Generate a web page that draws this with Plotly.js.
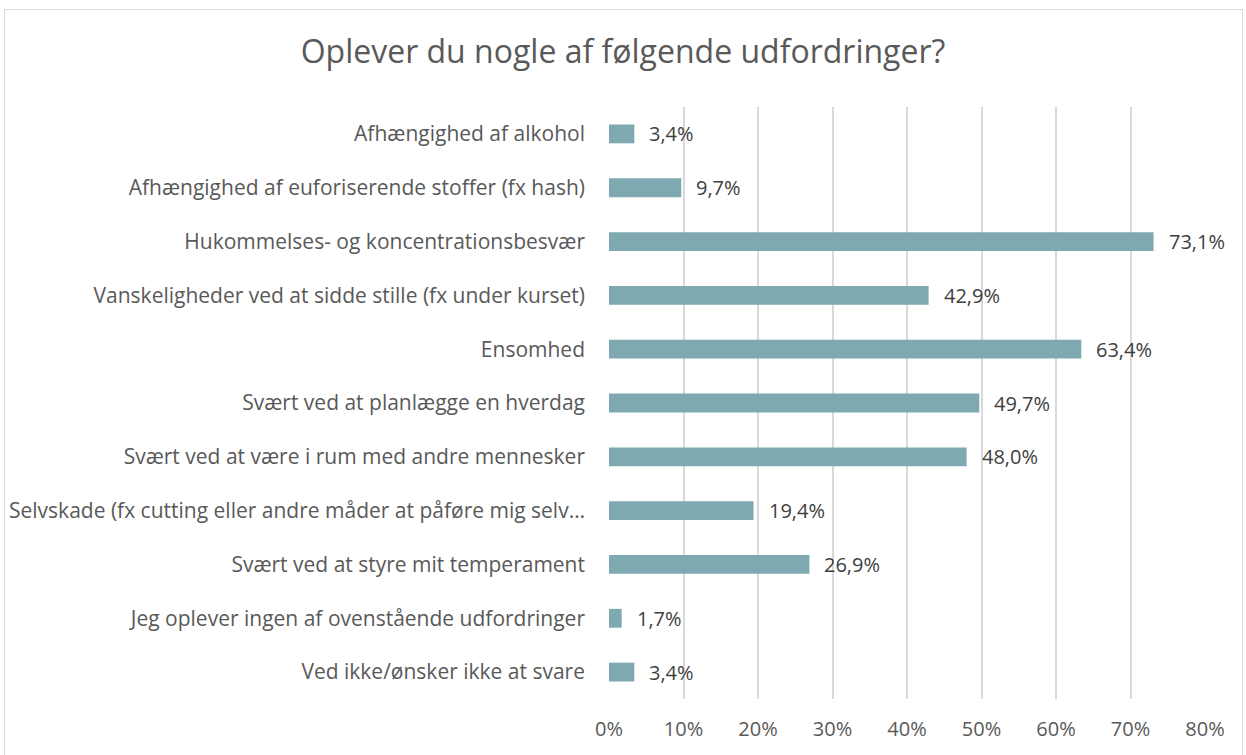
<!DOCTYPE html>
<html><head><meta charset="utf-8">
<script src="https://cdn.plot.ly/plotly-3.0.1.min.js"></script>
<style>
body{margin:0;background:#fff;}
#wrap{position:relative;width:1246px;height:755px;}
#chart{width:1246px;height:755px;}
#border{position:absolute;left:4px;top:9px;width:1237px;height:760px;border:1.5px solid #d9d9d9;pointer-events:none;}
</style></head>
<body><div id="wrap"><div id="chart"></div><div id="border"></div></div>
<script>
const categories = [
  "Afhængighed af alkohol",
  "Afhængighed af euforiserende stoffer (fx hash)",
  "Hukommelses- og koncentrationsbesvær",
  "Vanskeligheder ved at sidde stille (fx under kurset)",
  "Ensomhed",
  "Svært ved at planlægge en hverdag",
  "Svært ved at være i rum med andre mennesker",
  "Selvskade (fx cutting eller andre måder at påføre mig selv…",
  "Svært ved at styre mit temperament",
  "Jeg oplever ingen af ovenstående udfordringer",
  "Ved ikke/ønsker ikke at svare"
];
const values = [3.4, 9.7, 73.1, 42.9, 63.4, 49.7, 48.0, 19.4, 26.9, 1.7, 3.4];
const tickVals = [0,10,20,30,40,50,60,70,80];
const tickLabels = ["0%","10%","20%","30%","40%","50%","60%","70%","80%"];
const labels = values.map(v => v.toFixed(1).replace('.', ',') + '%');

const font = "Open Sans, Noto Sans, sans-serif";
const annotations = values.map((v, i) => ({
  x: v, y: categories[i], xref: 'x', yref: 'y', text: labels[i],
  showarrow: false, xanchor: 'left', yanchor: 'middle', xshift: 13,
  font: {family: font, size: 20, color: '#404040'}
}));
Plotly.newPlot('chart', [{
  type: 'bar', orientation: 'h',
  x: values, y: categories,
  marker: {color: '#7fa9b0'},
  width: 0.35, hoverinfo: 'none'
}], {
  width: 1246, height: 755,
  margin: {l: 609, r: 41, t: 107, b: 56},
  paper_bgcolor: '#ffffff', plot_bgcolor: '#ffffff',
  title: {text: 'Oplever du nogle af følgende udfordringer?', x: 0.5, xanchor: 'center', y: 0.932, yanchor: 'middle',
          font: {family: font, size: 32, color: '#595959'}},
  xaxis: {range: [0, 80], tickvals: tickVals, ticktext: tickLabels, showgrid: true,
          gridcolor: '#d9d9d9', gridwidth: 2, zeroline: false, showline: false,
          ticks: '', tickfont: {family: font, size: 20, color: '#595959'}, ticklabelstandoff: 16, fixedrange: true},
  yaxis: {autorange: 'reversed', showgrid: false, zeroline: false, showline: false, ticks: '',
          ticklabelstandoff: 23,
          tickfont: {family: font, size: 21, color: '#595959'}, fixedrange: true},
  annotations: annotations,
  showlegend: false
}, {staticPlot: true});
</script></body></html>
